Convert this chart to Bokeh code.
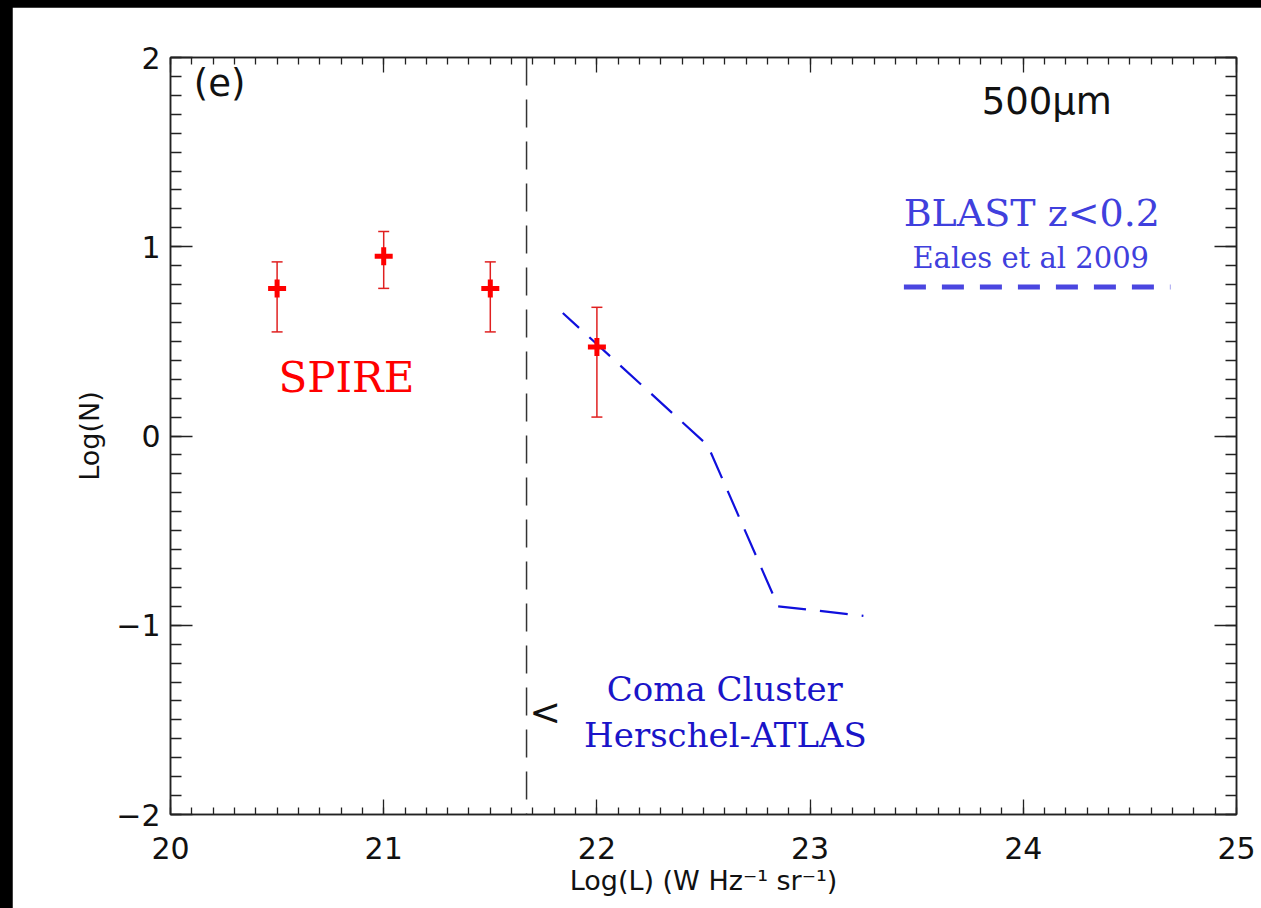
from bokeh.plotting import figure
from bokeh.models import (Range1d, LinearAxis, SingleIntervalTicker, Span, Label,
                          ColumnDataSource)
from bokeh.layouts import column
from bokeh.embed import file_html
from bokeh.resources import INLINE

# ---------------- data ----------------
spire_x = [20.5, 21.0, 21.5, 22.0]
spire_y = [0.78, 0.95, 0.78, 0.47]
spire_lo = [0.55, 0.78, 0.55, 0.10]
spire_hi = [0.92, 1.08, 0.92, 0.68]

blast_x = [21.84, 22.52, 22.85, 23.25]
blast_y = [0.65, -0.05, -0.90, -0.95]

limit_x = 21.67

legend_x = [23.44, 24.69]
legend_y = [0.787, 0.787]

x_ticks_interval = 1
y_ticks_interval = 1

# ---------------- figure ----------------
W, H = 1249, 901
p = figure(width=W, height=H, output_backend="svg", toolbar_location=None,
           x_range=Range1d(20, 25), y_range=Range1d(-2, 2),
           min_border_left=158, min_border_right=25,
           min_border_top=50, min_border_bottom=94)
p.background_fill_color = "white"
p.border_fill_color = "white"
p.grid.visible = False
p.outline_line_color = "#222222"
p.outline_line_width = 1.5

xt = SingleIntervalTicker(interval=x_ticks_interval, num_minor_ticks=10)
yt = SingleIntervalTicker(interval=y_ticks_interval, num_minor_ticks=10)

def style(ax, xaxis, labels=True):
    ax.ticker = xt if xaxis else yt
    ax.axis_line_color = "#222222"
    ax.axis_line_width = 1.5
    ax.major_tick_line_color = "#222222"
    ax.minor_tick_line_color = "#222222"
    ax.major_tick_line_width = 1.3
    ax.minor_tick_line_width = 1.3
    ax.major_tick_out = 0
    ax.minor_tick_out = 0
    if xaxis:
        ax.major_tick_in = 15
        ax.minor_tick_in = 7
    else:
        ax.major_tick_in = 22
        ax.minor_tick_in = 11
    if labels:
        ax.major_label_text_font = "DejaVu Sans"
        ax.major_label_text_font_size = "30px"
        ax.major_label_text_color = "#111111"
        ax.axis_label_text_font = "DejaVu Sans"
        ax.axis_label_text_font_size = "27px"
        ax.axis_label_text_font_style = "normal"
        ax.axis_label_text_color = "#111111"
    else:
        ax.major_label_text_font_size = "0px"
        ax.major_label_text_color = None

style(p.xaxis[0], True)
style(p.yaxis[0], False)
p.xaxis[0].axis_label = "Log(L) (W Hz\u207b\u00b9 sr\u207b\u00b9)"
p.yaxis[0].axis_label = "Log(N)"
p.xaxis[0].major_label_standoff = 22
p.xaxis[0].axis_label_standoff = 3
p.yaxis[0].major_label_standoff = 10
p.yaxis[0].axis_label_standoff = 8

top = LinearAxis()
style(top, True, labels=False)
p.add_layout(top, "above")
right = LinearAxis()
style(right, False, labels=False)
p.add_layout(right, "right")

# ---------------- marks ----------------
p.add_layout(Span(location=limit_x, dimension="height", line_color="#333333",
                  line_width=1.5, line_dash="28 14"))

p.line(blast_x, blast_y, line_color="#1010dd", line_width=2.2, line_dash="28 14",
       line_dash_offset=6)

src = ColumnDataSource(dict(x=spire_x, y=spire_y, lo=spire_lo, hi=spire_hi))
p.segment(x0="x", y0="lo", x1="x", y1="hi", source=src, line_color="#e02020",
          line_width=1.5)
p.scatter(x="x", y="lo", source=src, marker="dash", size=11, line_color="#e02020",
          line_width=1.5)
p.scatter(x="x", y="hi", source=src, marker="dash", size=11, line_color="#e02020",
          line_width=1.5)
p.scatter(x="x", y="y", source=src, marker="cross", size=18, line_color="#ff0000",
          line_width=5)

p.line(legend_x, legend_y, line_color="#4a46e0", line_width=5, line_dash="22 16")

# ---------------- texts ----------------
def lab(x, y, t, font, size, color, align="center", style="normal"):
    p.add_layout(Label(x=x, y=y, text=t, text_font=font, text_font_size=size,
                       text_color=color, text_align=align, text_baseline="middle",
                       text_font_style=style))

lab(20.23, 1.86, "(e)", "DejaVu Sans", "37px", "#111111")
lab(24.11, 1.77, "500\u03bcm", "DejaVu Sans", "37px", "#111111")
lab(24.04, 1.18, "BLAST z<0.2", "DejaVu Serif", "38px", "#4040dd")
lab(24.035, 0.94, "Eales et al 2009", "DejaVu Serif", "29px", "#4040dd")
lab(20.825, 0.31, "SPIRE", "DejaVu Serif", "42px", "#ff0000")
lab(22.60, -1.335, "Coma Cluster", "DejaVu Serif", "34px", "#1a14c8")
lab(22.603, -1.58, "Herschel-ATLAS", "DejaVu Serif", "34px", "#1a14c8")
lab(21.757, -1.46, "<", "DejaVu Sans", "38px", "#111111")

layout = column(p, styles={"background-color": "black", "padding-left": "12px",
                           "padding-top": "7px"})

open("out.html", "w").write(file_html(layout, INLINE))
